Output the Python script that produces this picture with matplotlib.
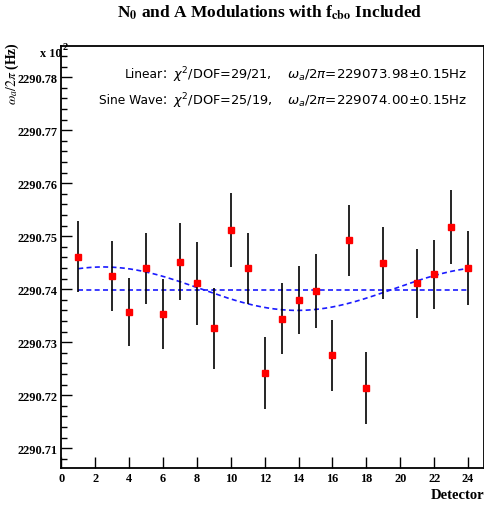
import numpy as np
import matplotlib
matplotlib.use("Agg")
import matplotlib.pyplot as plt
from matplotlib.ticker import MultipleLocator, FormatStrFormatter, NullLocator

# detector values (units of 100 Hz), detectors 2 and 20 absent
detectors = [1, 3, 4, 5, 6, 7, 8, 9, 10, 11, 12, 13, 14, 15, 16, 17, 18, 19, 21, 22, 23, 24]
omega = [2290.7461, 2290.7425, 2290.7357, 2290.7440, 2290.7353, 2290.7452, 2290.7411,
         2290.7326, 2290.7511, 2290.7440, 2290.7241, 2290.7344, 2290.7380, 2290.7397,
         2290.7275, 2290.7492, 2290.7213, 2290.7449, 2290.7411, 2290.7428, 2290.7517,
         2290.7440]
errors = [0.0067, 0.0066, 0.0065, 0.0067, 0.0066, 0.0073, 0.0078, 0.0077, 0.0070, 0.0067,
          0.0068, 0.0067, 0.0064, 0.0070, 0.0067, 0.0067, 0.0068, 0.0068, 0.0065, 0.0065,
          0.0070, 0.0069]

# fit results
linear_const = 2290.7398
sine_mean = 2290.7401
sine_amp = 0.0041
sine_period = 22.9
sine_peak = 2.47
fit_range = (1, 24)

fit_names = ["Linear", "Sine Wave"]
fit_chi2 = [r"$\chi^{2}$/DOF=29/21,", r"$\chi^{2}$/DOF=25/19,"]
fit_values = [r"$\omega_{a}$/2$\pi$=229073.98$\pm$0.15Hz", r"$\omega_{a}$/2$\pi$=229074.00$\pm$0.15Hz"]

SERIF = "Liberation Serif"
SANS = ["DejaVu Sans", "Noto Sans CJK SC"]

W, H = 484, 506


def px(x, y):
    return x / W, 1 - y / H


fig = plt.figure(figsize=(4.84, 5.06), dpi=100)
ax = fig.add_axes([61.3 / W, 36.7 / H, 422.2 / W, 422.3 / H])

# fits
xf = np.linspace(fit_range[0], fit_range[1], 300)
ax.plot(fit_range, [linear_const, linear_const], color="#1a1aff", linestyle=(0, (3, 2)), linewidth=1.2)
ax.plot(xf, sine_mean + sine_amp * np.cos(2 * np.pi * (xf - sine_peak) / sine_period),
        color="#1a1aff", linestyle=(0, (3, 2)), linewidth=1.2)

ax.errorbar(detectors, omega, yerr=errors, fmt="s", color="red", markersize=5,
            ecolor="black", elinewidth=1.2, capsize=0, zorder=5)

ax.set_xlim(0, 24.91)
ax.set_ylim(2290.7062, 2290.7859)

ax.xaxis.set_major_locator(MultipleLocator(2))
ax.xaxis.set_minor_locator(NullLocator())
ax.yaxis.set_major_locator(MultipleLocator(0.01))
ax.yaxis.set_minor_locator(MultipleLocator(0.002))
ax.yaxis.set_major_formatter(FormatStrFormatter("%.2f"))
ax.tick_params(axis="both", which="major", direction="in", length=8, width=1, pad=3,
               top=False, right=False)
ax.tick_params(axis="y", which="minor", direction="in", length=4, width=1, right=False)
for lab in ax.get_xticklabels() + ax.get_yticklabels():
    lab.set_fontfamily(SERIF)
    lab.set_fontweight("bold")
    lab.set_fontsize(8.8)
for side in ["left", "bottom", "top", "right"]:
    ax.spines[side].set_linewidth(1.3)

fig.text(*px(270, 13), r"N$_\mathbf{0}$ and A Modulations with f$_\mathbf{cbo}$ Included",
         ha="center", va="center", fontsize=12.5, fontweight="bold", family=SERIF,
         math_fontfamily="stix")

fig.text(*px(12, 42), r"$\omega_a/2\pi$ (Hz)", rotation=90, ha="center", va="top",
         fontsize=9.8, fontweight="bold", family=SERIF, math_fontfamily="stix")
fig.text(*px(40, 54), "x 10", ha="left", va="center", fontsize=8.8,
         fontweight="bold", family=SERIF)
fig.text(*px(63, 47), "2", ha="left", va="center", fontsize=7.5, fontweight="bold",
         family=SERIF, zorder=10)
fig.text(*px(484, 496), "Detector", ha="right", va="center", fontsize=10.5,
         fontweight="bold", family=SERIF)

for i, (name, chi, val) in enumerate(zip(fit_names, fit_chi2, fit_values)):
    y = 75 + 26 * i
    fig.text(*px(163, y), name, ha="right", va="center", fontsize=8.8, family=SANS)
    fig.text(*px(168, y), "：", ha="center", va="center", fontsize=8.8, family=SANS)
    fig.text(*px(173, y), chi, ha="left", va="center", fontsize=9.3, family=SANS)
    fig.text(*px(287, y), val, ha="left", va="center", fontsize=9.6, family=SANS)

fig.savefig("out.png", dpi=100)
